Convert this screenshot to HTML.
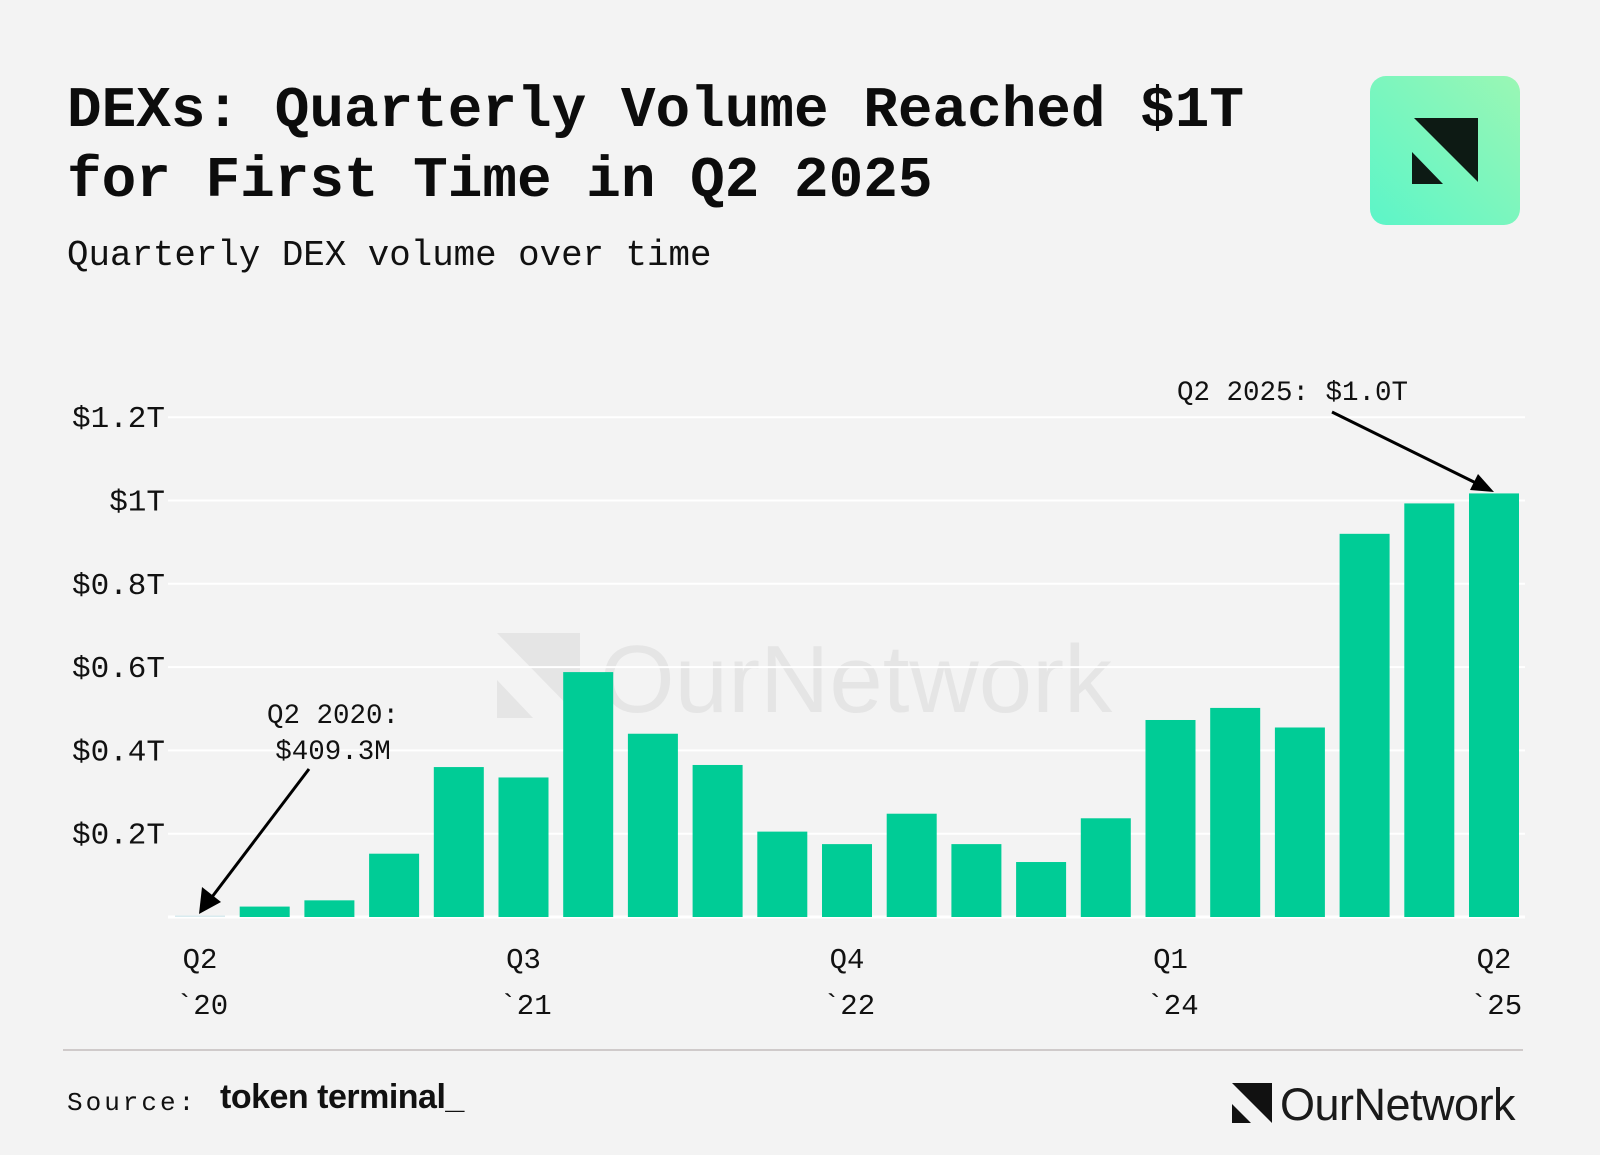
<!DOCTYPE html>
<html><head><meta charset="utf-8"><style>
body{margin:0;width:1600px;height:1150px;background:#f3f3f3;overflow:hidden;font-family:"Liberation Mono",monospace}
</style></head><body>
<svg width="1600" height="1150" xmlns="http://www.w3.org/2000/svg">
<defs><linearGradient id="lg" x1="1" y1="0" x2="0" y2="1"><stop offset="0" stop-color="#9af7b4"/><stop offset="1" stop-color="#5cf5c8"/></linearGradient></defs>
<text x="67" y="126" font-family="Liberation Mono, monospace" font-weight="bold" font-size="57.7" fill="#0c0c0c">DEXs: Quarterly Volume Reached $1T</text>
<text x="67" y="196" font-family="Liberation Mono, monospace" font-weight="bold" font-size="57.7" fill="#0c0c0c">for First Time in Q2 2025</text>
<text x="67" y="265" font-family="Liberation Mono, monospace" font-size="35.8" fill="#111">Quarterly DEX volume over time</text>
<g>
<rect x="1370" y="76" width="150" height="149" rx="16" fill="url(#lg)"/>
<polygon points="1414,118 1478,118 1478,182" fill="#0d1a14"/>
<polygon points="1412,152 1412,184 1443,184" fill="#0d1a14"/>
</g>
<g opacity="0.6">
<polygon points="497,633 580,633 580,718" fill="#dcdcdc"/><polygon points="497,680 497,718 533,718" fill="#dcdcdc"/>
<text x="600" y="712" font-family="Liberation Sans, sans-serif" font-size="96" fill="#dcdcdc">OurNetwork</text>
</g>
<g id="grid"></g><g id="bars"></g><g id="xlab"></g>
<g>
<text x="1177" y="400" font-size="27.5" fill="#111">Q2 2025: $1.0T</text>
<line x1="1332" y1="412" x2="1480" y2="485" stroke="#000" stroke-width="3"/>
<polygon points="1494,492 1470,490 1478,474" fill="#000"/>
</g>
<g>
<text x="333" y="723" font-size="27.5" fill="#111" text-anchor="middle">Q2 2020:</text>
<text x="333" y="759" font-size="27.5" fill="#111" text-anchor="middle">$409.3M</text>
<line x1="309" y1="769" x2="212" y2="897" stroke="#000" stroke-width="3"/>
<polygon points="199,914 202,887 221,902" fill="#000"/>
</g>
<line x1="63" y1="1050" x2="1523" y2="1050" stroke="#cfcaca" stroke-width="2"/>
<text x="67" y="1110" font-size="26" letter-spacing="3" fill="#111">Source:</text>
<text x="220" y="1108" font-family="Liberation Sans, sans-serif" font-weight="bold" font-size="34" fill="#111" letter-spacing="-0.5">token terminal_</text>
<g>
<polygon points="1232,1083 1272,1083 1272,1123" fill="#111"/><polygon points="1232,1104 1232,1123 1251,1123" fill="#111"/>
<text x="1280" y="1120" font-family="Liberation Sans, sans-serif" font-size="45" fill="#1a1a1a" letter-spacing="-0.5">OurNetwork</text>
</g>
</svg>
<script>
const categories=["Q2'20","Q3'20","Q4'20","Q1'21","Q2'21","Q3'21","Q4'21","Q1'22","Q2'22","Q3'22","Q4'22","Q1'23","Q2'23","Q3'23","Q4'23","Q1'24","Q2'24","Q3'24","Q4'24","Q1'25","Q2'25"];
const volumes=[0.0004093,0.025,0.04,0.152,0.36,0.335,0.588,0.44,0.365,0.205,0.175,0.248,0.175,0.132,0.237,0.473,0.502,0.455,0.92,0.993,1.017];
const yTicks=[0.2,0.4,0.6,0.8,1,1.2];
const yTickLabels=["$0.2T","$0.4T","$0.6T","$0.8T","$1T","$1.2T"];
const xTickIdx=[0,5,10,15,20];
const xTickTop=["Q2","Q3","Q4","Q1","Q2"];
const xTickBottom=["`20","`21","`22","`24","`25"];
const NS="http://www.w3.org/2000/svg";
const y0=917,pxPerT=416.5,x0=200,step=64.7,bw=50;
const y=v=>y0-v*pxPerT, x=i=>x0+i*step;
function mk(t,a){const e=document.createElementNS(NS,t);for(const k in a)e.setAttribute(k,a[k]);return e;}
const grid=document.getElementById('grid');
yTicks.forEach((t,i)=>{
 const l=mk('line',{x1:168,x2:1525,y1:y(t),y2:y(t),stroke:'#ffffff','stroke-width':2});
 
 
 grid.appendChild(l);
 const tx=mk('text',{x:165,y:y(t)+10,'text-anchor':'end','font-size':31,fill:'#111'});
 tx.textContent=yTickLabels[i];
 
 
 grid.appendChild(tx);
});
const zl=mk('line',{x1:168,x2:1525,y1:y0,y2:y0,stroke:'#ffffff','stroke-width':3});


grid.appendChild(zl);
const bars=document.getElementById('bars');
volumes.forEach((v,i)=>{
 const h=Math.max(v*pxPerT,1.5);
 const r=mk('rect',{x:x(i)-bw/2,y:y0-h,width:bw,height:h,fill:i===0?'#d9ebef':'#00cc96'});
 
 
 bars.appendChild(r);
});
const xl=document.getElementById('xlab');
xTickIdx.forEach((ix,k)=>{
 const a=mk('text',{x:x(ix),y:968,'text-anchor':'middle','font-size':29,fill:'#111'});a.textContent=xTickTop[k];
 
 
 xl.appendChild(a);
 const b=mk('text',{x:x(ix)+2,y:1014,'text-anchor':'middle','font-size':29,fill:'#111'});b.textContent=xTickBottom[k];
 
 
 xl.appendChild(b);
});
</script>
</body></html>
